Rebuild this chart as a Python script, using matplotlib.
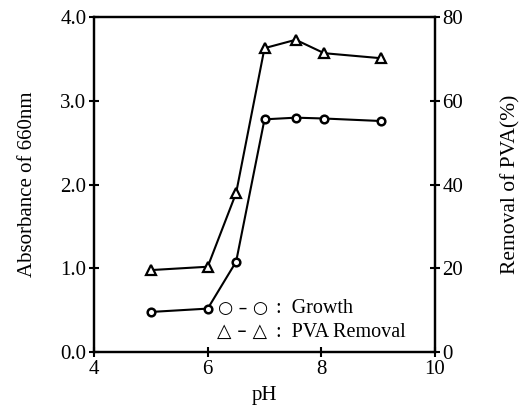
import matplotlib.pyplot as plt

plt.rcParams['font.family'] = ['Liberation Serif', 'DejaVu Serif']

ph = [5.0, 6.0, 6.5, 7.0, 7.55, 8.05, 9.05]
growth = [0.48, 0.52, 1.08, 2.78, 2.80, 2.79, 2.76]
removal = [19.6, 20.4, 38.0, 72.6, 74.6, 71.4, 70.2]

fig = plt.figure(figsize=(5.29, 4.09), dpi=100)
ax = fig.add_axes([0.178, 0.139, 0.644, 0.819])
ax2 = ax.twinx()

ax.plot(ph, growth, color='black', lw=1.5, marker='o', ms=5.5,
        mfc='white', mec='black', mew=1.8)
ax2.plot(ph, removal, color='black', lw=1.5, marker='^', ms=6.5,
         mfc='white', mec='black', mew=1.6)

ax.set_xlim(4, 10)
ax.set_ylim(0, 4.0)
ax2.set_ylim(0, 80)
ax.set_xticks([4, 6, 8, 10])
ax.set_yticks([0, 1, 2, 3, 4])
ax.set_yticklabels(['0.0', '1.0', '2.0', '3.0', '4.0'])
ax2.set_yticks([0, 20, 40, 60, 80])

for a in (ax, ax2):
    a.tick_params(direction='inout', length=7, width=1.5, labelsize=15,
                  pad=2)
    for s in a.spines.values():
        s.set_linewidth(1.6)

ax.set_xlabel('pH', fontsize=15, labelpad=5)
ax.set_ylabel('Absorbance of 660nm', fontsize=15)
ax.yaxis.set_label_coords(-0.168, 0.5)
ax2.set_ylabel('Removal of PVA(%)', fontsize=15.5)
ax2.yaxis.set_label_coords(1.194, 0.5)

# legend written as text, like the original figure
ax.text(0.363, 0.118, '○ – ○', transform=ax.transAxes,
        fontsize=12.5, family='DejaVu Sans')
ax.text(0.535, 0.118, ':  Growth', transform=ax.transAxes, fontsize=14.5)
ax.text(0.36, 0.045, '△ – △', transform=ax.transAxes,
        fontsize=13.5, family='DejaVu Sans')
ax.text(0.535, 0.045, ':  PVA Removal', transform=ax.transAxes, fontsize=14.5)

fig.savefig('out.png', dpi=100)
